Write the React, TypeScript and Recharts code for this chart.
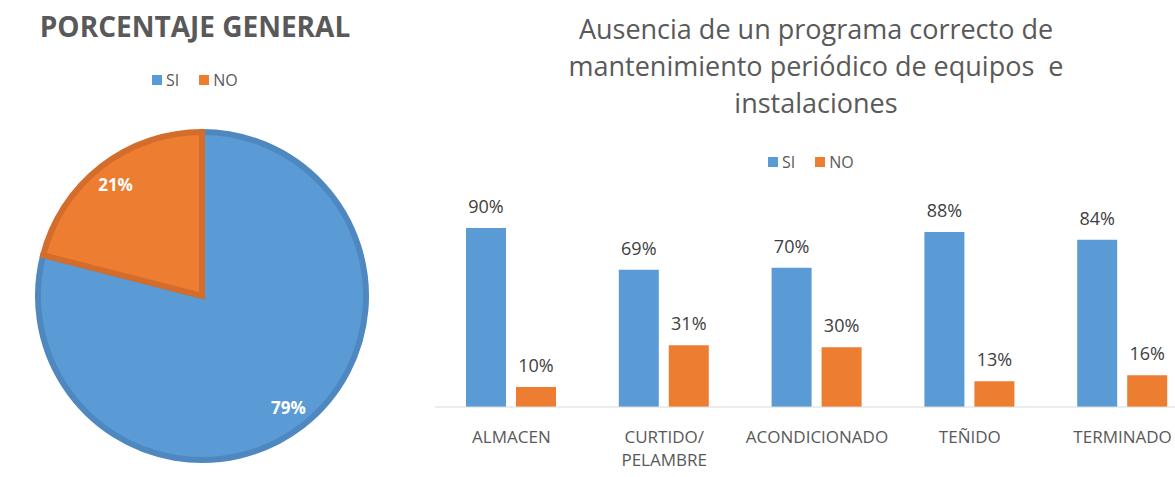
import React from 'react';
import { PieChart, Pie, Cell, BarChart, Bar, XAxis, YAxis, LabelList } from 'recharts';

const pieNames = ['SI', 'NO'];
const pieValues = [79, 21];

const categories = ['ALMACEN', 'CURTIDO/ PELAMBRE', 'ACONDICIONADO', 'TEÑIDO', 'TERMINADO'];
const siValues = [90, 69, 70, 88, 84];
const noValues = [10, 31, 30, 13, 16];

const BLUE = '#5b9bd5';
const ORANGE = '#ed7d31';
const FONT = '"Open Sans", "DejaVu Sans", sans-serif';

const pieData = pieNames.map((name, i) => ({ name, value: pieValues[i] }));
const barData = categories.map((name, i) => ({ name, SI: siValues[i], NO: noValues[i] }));

const RAD = Math.PI / 180;

const renderPieLabel = (props: any) => {
  const { cx, cy, midAngle, outerRadius, value } = props;
  const r = outerRadius * 0.86;
  const x = cx + r * Math.cos(-midAngle * RAD);
  const y = cy + r * Math.sin(-midAngle * RAD);
  return (
    <text x={x} y={y} fill="#fff" fontSize={17} fontWeight="bold" fontFamily={FONT}
      textAnchor="middle" dominantBaseline="central">
      {value}%
    </text>
  );
};

const renderValueLabel = (props: any) => {
  const { x, y, width, value } = props;
  return (
    <text x={x + width / 2} y={y - 15} fill="#404040" fontSize={18} fontFamily={FONT} textAnchor="middle">
      {value}%
    </text>
  );
};

const CategoryTick = (props: any) => {
  const { x, y, payload } = props;
  const lines = String(payload.value).split(' ');
  return (
    <g>
      {lines.map((line, i) => (
        <text key={i} x={x} y={y + 28 + i * 23} fill="#595959" fontSize={17} fontFamily={FONT} textAnchor="middle">
          {line}
        </text>
      ))}
    </g>
  );
};

const LegendRow = ({ left, top }: { left: number; top: number }) => (
  <div style={{ position: 'absolute', left, top, display: 'flex', alignItems: 'center', fontFamily: FONT, fontSize: 16, color: '#595959' }}>
    {pieNames.map((n, i) => (
      <div key={n} style={{ display: 'flex', alignItems: 'center', marginRight: i === 0 ? 20 : 0 }}>
        <span style={{ width: 10, height: 10, background: i === 0 ? BLUE : ORANGE, marginRight: 4, display: 'inline-block' }} />
        <span>{n}</span>
      </div>
    ))}
  </div>
);

export default function App() {
  return (
    <div style={{ position: 'absolute', left: 0, top: 0, width: 1175, height: 477, overflow: 'hidden', background: '#fff' }}>
      {/* left: pie */}
      <div style={{ position: 'absolute', left: 0, top: 7, width: 390, textAlign: 'center', fontFamily: FONT, fontWeight: 'bold', fontSize: 28, color: '#595959' }}>
        PORCENTAJE GENERAL
      </div>
      <LegendRow left={152} top={69} />
      <div style={{ position: 'absolute', left: 0, top: 0 }}>
        <PieChart width={400} height={477}>
          <Pie data={pieData} dataKey="value" nameKey="name" cx={197} cy={291} outerRadius={164}
            startAngle={90} endAngle={-270} label={renderPieLabel} labelLine={false} isAnimationActive={false}>
            <Cell fill={BLUE} stroke="#4f88c0" strokeWidth={6} />
            <Cell fill={ORANGE} stroke="#d46d2b" strokeWidth={6} />
          </Pie>
        </PieChart>
      </div>

      {/* right: bars */}
      <div style={{ position: 'absolute', left: 516, top: 10, width: 600, textAlign: 'center', fontFamily: FONT, fontSize: 27, lineHeight: '37px', color: '#595959' }}>
        Ausencia de un programa correcto de<br />mantenimiento periódico de equipos&nbsp; e<br />instalaciones
      </div>
      <LegendRow left={768} top={151} />
      <div style={{ position: 'absolute', left: 420, top: 0 }}>
        <BarChart width={800} height={477} data={barData} barSize={40} barGap={10}
          margin={{ top: 208, right: 21, bottom: 10, left: 15 }}>
          <XAxis dataKey="name" axisLine={{ stroke: '#d9d9d9' }} tickLine={false} height={60}
            interval={0} tick={<CategoryTick />} />
          <YAxis hide domain={[0, 100]} />
          <Bar dataKey="SI" fill={BLUE} isAnimationActive={false}>
            <LabelList dataKey="SI" content={renderValueLabel} />
          </Bar>
          <Bar dataKey="NO" fill={ORANGE} isAnimationActive={false}>
            <LabelList dataKey="NO" content={renderValueLabel} />
          </Bar>
        </BarChart>
      </div>
    </div>
  );
}
